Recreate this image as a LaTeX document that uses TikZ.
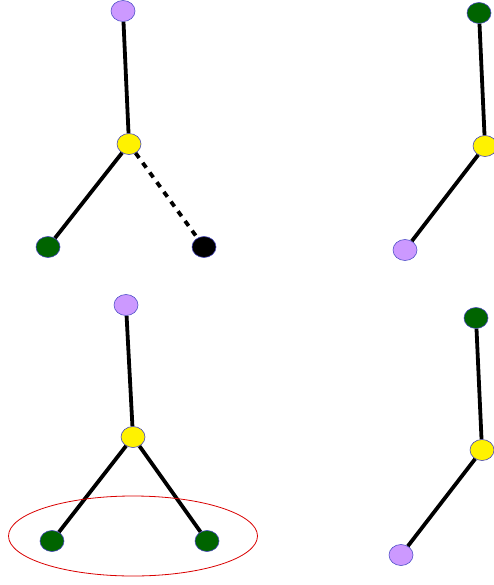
\documentclass[tikz,border=0pt]{standalone}
\usetikzlibrary{shapes.geometric}
\begin{document}
\begin{tikzpicture}[x=1pt, y=-1pt,
  vert/.style={ellipse, draw=blue!45!gray, line width=0.6pt, minimum width=24pt, minimum height=21pt, inner sep=0pt},
  lilac/.style={vert, fill={rgb,255:red,204;green,153;blue,255}, draw={rgb,255:red,80;green,80;blue,200}},
  sun/.style={vert, fill=yellow},
  leaf/.style={vert, fill={rgb,255:red,0;green,100;blue,0}},
  ink/.style={vert, fill=black},
  link/.style={line width=3.8pt, black},
  guess/.style={link, dash pattern=on 6pt off 6pt},
]
\useasboundingbox (0,0) rectangle (493,585);

% top left
\node[lilac] (p1) at (123,11) {};
\node[sun]   (y1) at (129,144) {};
\node[leaf]  (g1) at (48,247) {};
\node[ink]   (k1) at (204,247) {};
\draw[link]  (p1) -- (y1);
\draw[link]  (y1) -- (g1);
\draw[guess] (y1) -- (k1);

% top right
\node[leaf]  (g2) at (479,13) {};
\node[sun]   (y2) at (485,146) {};
\node[lilac] (p2) at (405,250) {};
\draw[link]  (g2) -- (y2);
\draw[link]  (y2) -- (p2);

% bottom left
\node[lilac] (p3) at (126,305) {};
\node[sun]   (y3) at (133,437) {};
\node[leaf]  (g3) at (52,541) {};
\node[leaf]  (g4) at (207,541) {};
\draw[link]  (p3) -- (y3);
\draw[link]  (y3) -- (g3);
\draw[link]  (y3) -- (g4);
\node[ellipse, draw=red!85!black, line width=0.8pt, minimum width=249pt, minimum height=80pt]
  (pair) at (133,536) {};

% bottom right
\node[leaf]  (g5) at (476,318) {};
\node[sun]   (y4) at (482,450) {};
\node[lilac] (p4) at (401,555) {};
\draw[link]  (g5) -- (y4);
\draw[link]  (y4) -- (p4);
\end{tikzpicture}
\end{document}
